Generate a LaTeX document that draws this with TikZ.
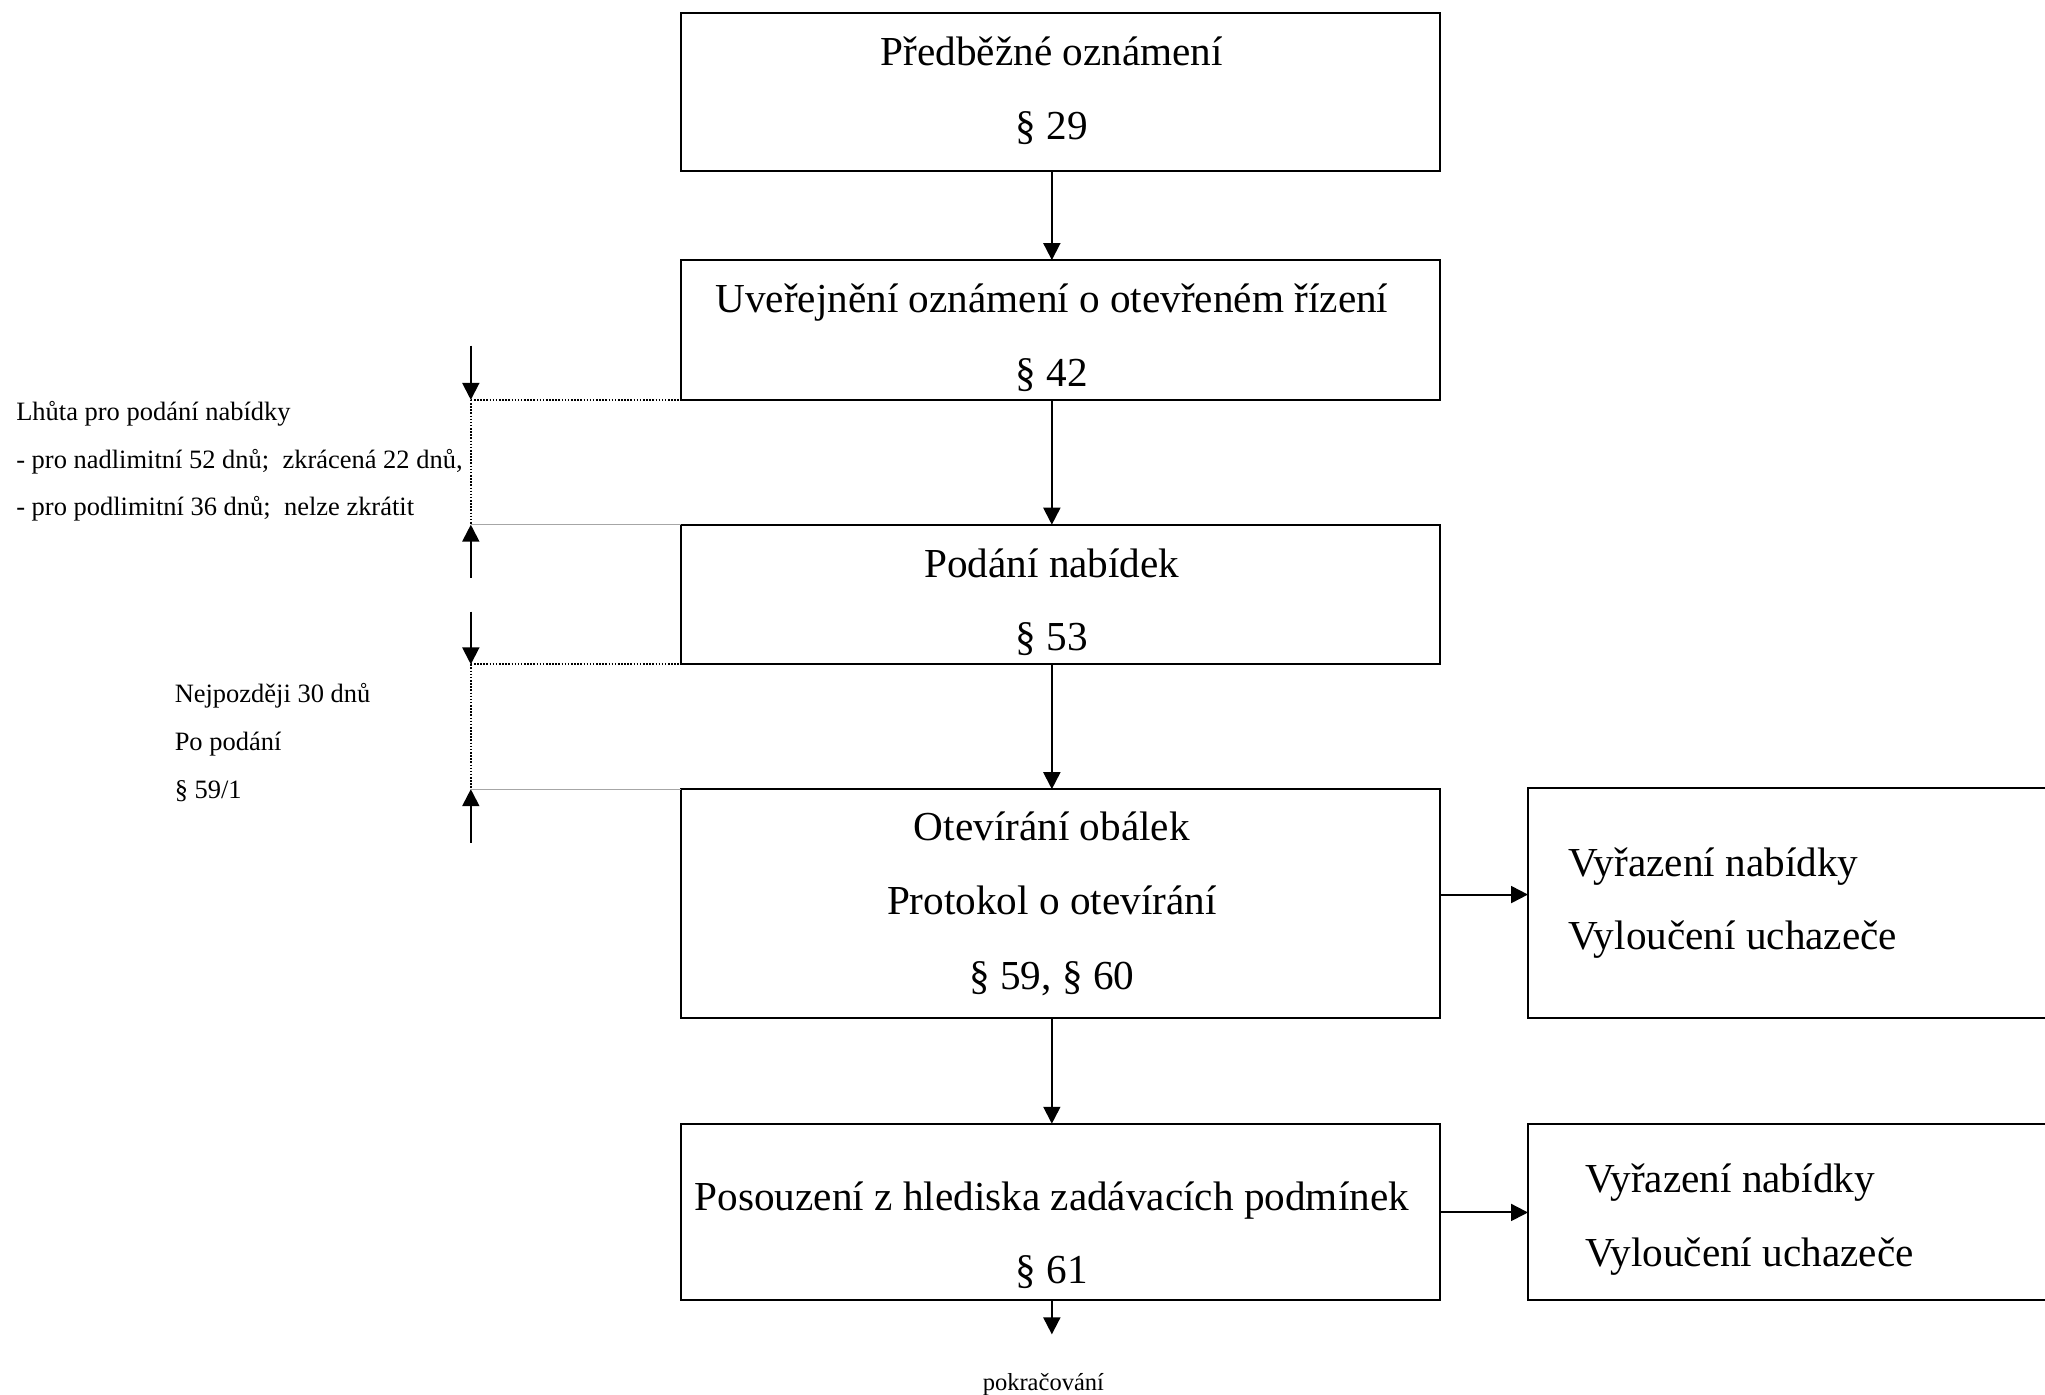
\documentclass[tikz,border=0pt]{standalone}
\usepackage{fontspec}
\setmainfont{Liberation Serif}
\usetikzlibrary{arrows.meta}
\tikzset{
  box/.style={draw, line width=1.5pt, minimum width=581.3pt, inner sep=0pt, outer sep=0pt},
  sidebox/.style={draw, line width=1.5pt, inner sep=0pt, outer sep=0pt},
  big/.style={font=\fontsize{31.6}{36}\selectfont, anchor=base, inner sep=0pt, yshift=-2pt},
  small/.style={font=\fontsize{20.3}{24}\selectfont, anchor=base west, inner sep=0pt, yshift=-2pt},
  arr/.style={line width=1.5pt, -{Triangle[length=13pt,width=13pt]}},
  dotline/.style={line width=1.5pt, dotted, dash pattern=on 1.2pt off 1.2pt},
  greyline/.style={line width=0.8pt, gray!70},
}
\begin{document}
\begin{tikzpicture}[x=1pt,y=-1pt]
\useasboundingbox (0,0) rectangle (1568,1069.6);
% main boxes
\node[box, minimum height=121.3pt] (b1) at (813.15,70.65) {};
\node[box, minimum height=107.2pt] (b2) at (813.15,253) {};
\node[box, minimum height=107.1pt] (b3) at (813.15,455.85) {};
\node[box, minimum height=175.2pt] (b4) at (813.15,692.7) {};
\node[box, minimum height=135.1pt] (b5) at (813.15,929.15) {};
% side boxes
\node[sidebox, minimum width=430pt, minimum height=175.8pt] (r1) at (1386.6,692.4) {};
\node[sidebox, minimum width=430pt, minimum height=135.1pt] (r2) at (1386.6,929.15) {};
% texts in boxes
\node[big] (t1a) at (806.5,48.2) {Předběžné oznámení};
\node[big] (t1b) at (806.5,104.7) {§ 29};
\node[big] (t2a) at (806.5,237.8) {Uveřejnění oznámení o otevřeném řízení};
\node[big] (t2b) at (806.5,294.3) {§ 42};
\node[big] (t3a) at (806.5,440.6) {Podání nabídek};
\node[big] (t3b) at (806.5,497.1) {§ 53};
\node[big] (t4a) at (806.5,642.4) {Otevírání obálek};
\node[big] (t4b) at (806.5,699.2) {Protokol o otevírání};
\node[big] (t4c) at (806.5,756.7) {§ 59, § 60};
\node[big] (t5a) at (806.5,926) {Posouzení z hlediska zadávacích podmínek};
\node[big] (t5b) at (806.5,981.8) {§ 61};
\node[big, anchor=base west] (r1a) at (1202.6,669.7) {Vyřazení nabídky};
\node[big, anchor=base west] (r1b) at (1202.6,726.2) {Vyloučení uchazeče};
\node[big, anchor=base west] (r2a) at (1215.3,912.5) {Vyřazení nabídky};
\node[big, anchor=base west] (r2b) at (1215.3,969.4) {Vyloučení uchazeče};
% left notes
\node[small] (n1) at (12.3,320.6) {Lhůta pro podání nabídky};
\node[small] (n2) at (12.3,357) {- pro nadlimitní 52 dnů;\ \ zkrácená 22 dnů,};
\node[small] (n3) at (12.3,393) {- pro podlimitní 36 dnů;\ \ nelze zkrátit};
\node[small] (m1) at (133.8,536.8) {Nejpozději 30 dnů};
\node[small] (m2) at (133.8,573.6) {Po podání};
\node[small] (m3) at (133.8,610) {§ 59/1};
\node[font=\fontsize{18.8}{22}\selectfont, anchor=base, inner sep=0pt] (pk) at (800,1066.5) {pokračování};
% vertical flow arrows
\draw[arr] ([xshift=-6.65pt]b1.south) -- ([xshift=-6.65pt]b2.north);
\draw[arr] ([xshift=-6.65pt]b2.south) -- ([xshift=-6.65pt]b3.north);
\draw[arr] ([xshift=-6.65pt]b3.south) -- ([xshift=-6.65pt]b4.north);
\draw[arr] ([xshift=-6.65pt]b4.south) -- ([xshift=-6.65pt]b5.north);
\coordinate (cont) at (806.5,1023.1);
\draw[arr] ([xshift=-6.65pt]b5.south) -- (cont);
% side arrows
\draw[arr] ([yshift=6.8pt]b4.east) -- ([yshift=6.8pt]b4.east -| r1.west);
\draw[arr] ([yshift=-0.5pt]b5.east) -- ([yshift=-0.5pt]b5.east -| r2.west);
% left brackets
\coordinate (la) at (361,265);
\coordinate (lb) at (361,443);
\draw[arr] (la) -- (la |- b2.south);
\draw[dotline] (la |- b2.south) -- (b2.south west);
\draw[dotline] (la |- b2.south) -- (la |- b3.north);
\draw[greyline] (la |- b3.north) -- (b3.north west);
\draw[arr] (lb) -- (lb |- b3.north);
\coordinate (lc) at (361,469);
\coordinate (ld) at (361,646);
\draw[arr] (lc) -- (lc |- b3.south);
\draw[dotline] (lc |- b3.south) -- (b3.south west);
\draw[dotline] (lc |- b3.south) -- (lc |- b4.north);
\draw[greyline] (lc |- b4.north) -- (b4.north west);
\draw[arr] (ld) -- (ld |- b4.north);
\end{tikzpicture}
\end{document}
